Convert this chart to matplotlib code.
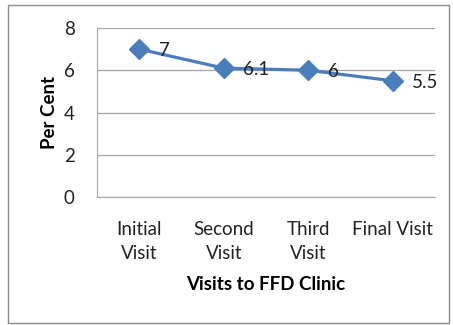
import matplotlib
matplotlib.use("Agg")
import matplotlib.pyplot as plt
from matplotlib.patches import Rectangle

visits = ["Initial\nVisit", "Second\nVisit", "Third\nVisit", "Final Visit"]
per_cent = [7, 6.1, 6, 5.5]
value_labels = ["7", "6.1", "6", "5.5"]
y_ticks = [0, 2, 4, 6, 8]

plt.rcParams['font.family'] = ['Lato', 'DejaVu Sans']
fs = 13.5

fig = plt.figure(figsize=(4.53, 3.25), dpi=100)
ax = fig.add_axes([97 / 453, 1 - 197 / 325, (435 - 97) / 453, (197 - 28) / 325])

x = list(range(len(visits)))
ax.plot(x, per_cent, color="#4a7ebb", linewidth=2.3, marker="D",
        markersize=10.5, markerfacecolor="#4a7ebb", markeredgecolor="#4a7ebb",
        zorder=3)
for xi, yi, lab in zip(x, per_cent, value_labels):
    ax.annotate(lab, (xi, yi), xytext=(14, -1), textcoords="offset points",
                fontsize=fs, color="#222222", va="center", ha="left")

ax.set_xlim(-0.5, 3.5)
ax.set_ylim(0, 8)
ax.set_yticks(y_ticks)
ax.set_xticks(x)
ax.set_xticklabels(visits, fontsize=fs, color="#222222", linespacing=1.5)
ax.tick_params(axis="y", labelsize=fs, labelcolor="#222222", length=0, pad=16)
ax.tick_params(axis="x", length=0, pad=17)
ax.grid(axis="y", color="#a6a6a6", linewidth=0.9)
ax.set_axisbelow(True)
for side in ["top", "right"]:
    ax.spines[side].set_visible(False)
ax.spines["left"].set_color("#a6a6a6")
ax.spines["bottom"].set_color("#a6a6a6")

ax.set_xlabel("Visits to FFD Clinic", fontsize=fs, fontweight="bold", labelpad=10)
ax.set_ylabel("Per Cent", fontsize=fs, fontweight="bold", labelpad=4)

fig.patches.append(Rectangle((8 / 453, 2 / 325), 441 / 453, 318 / 325,
                             transform=fig.transFigure, fill=False,
                             edgecolor="#8c8c8c", linewidth=1))

fig.savefig("out.png", dpi=100)
